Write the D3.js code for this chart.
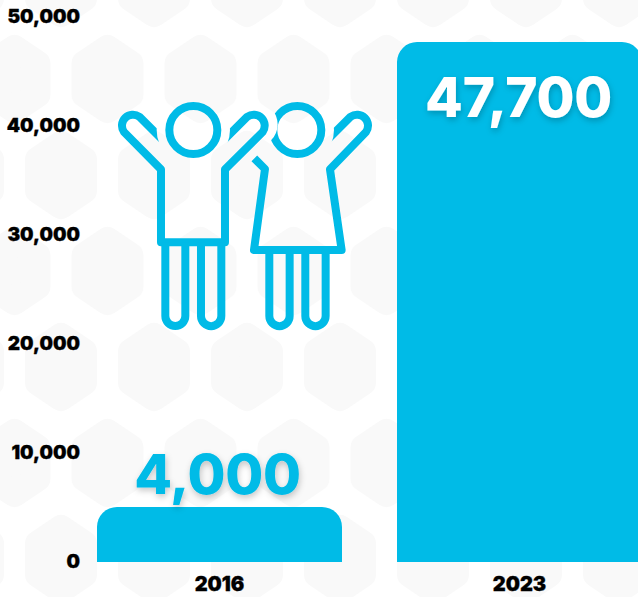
<!DOCTYPE html>
<html><head><meta charset="utf-8">
<script src="https://cdn.jsdelivr.net/npm/d3@7/dist/d3.min.js"></script>
<style>
html,body{margin:0;padding:0;background:#fff;overflow:hidden}
svg{display:block}
.axis text{font-family:Inter,sans-serif;font-weight:900;font-size:20px;fill:#000;stroke:#000;stroke-width:.3px}
.axis.yax text{font-size:19px}
.val{font-family:Inter,sans-serif;font-weight:800;font-size:55px;text-anchor:middle;letter-spacing:-.3px}
</style></head><body>
<script>
const categories = ["2016", "2023"];
const barValues = [5050, 47700];      // bar height as drawn
const valueLabels = ["4,000", "47,700"];
const yTicks = [0, 10000, 20000, 30000, 40000, 50000];
const W = 638, H = 597, BLUE = "#00bbe7", HEX = "#f9f9f9";

const svg = d3.select("body").append("svg").attr("width", W).attr("height", H);
const defs = svg.append("defs");

// drop shadow for the value labels
const f = defs.append("filter").attr("id","sh").attr("x","-20%").attr("y","-20%").attr("width","140%").attr("height","150%");
f.append("feDropShadow").attr("dx",1).attr("dy",3).attr("stdDeviation",3).attr("flood-color","#000").attr("flood-opacity",.22);

// hexagon background
const hexG = svg.append("g").attr("fill",HEX).attr("stroke",HEX).attr("stroke-width",26).attr("stroke-linejoin","round");
const hexPts = (cx,cy)=>{const rx=23,ry=31;return [[0,-ry],[rx,-ry/2],[rx,ry/2],[0,ry],[-rx,ry/2],[-rx,-ry/2]].map(p=>[cx+p[0],cy+p[1]].join(",")).join(" ");};
for(let r=0;r<7;r++){
  const cy=-17+96*r, x0=r%2?14.5:61;
  for(let c=-1;c<8;c++) hexG.append("polygon").attr("points",hexPts(x0+93*c,cy));
}

// scales and axes
const y = d3.scaleLinear().domain([0,50000]).range([562,17]);
const x = d3.scaleBand().domain(categories).range([97,642]).paddingInner(55/300).paddingOuter(0);

const yAxis = svg.append("g").attr("class","axis yax").attr("transform","translate(80,-1)")
  .call(d3.axisLeft(y).tickValues(yTicks).tickFormat(d3.format(",")).tickSize(0).tickPadding(0));
yAxis.select(".domain").remove();
const xAxis = svg.append("g").attr("class","axis").attr("transform","translate(0,562)")
  .call(d3.axisBottom(x).tickSize(0).tickPadding(15));
xAxis.select(".domain").remove();

// bars
const R = 20;
svg.append("g").selectAll("path").data(categories).join("path")
  .attr("fill",BLUE)
  .attr("d",(c,i)=>{
    const p=d3.path(), x0=x(c), x1=x0+x.bandwidth(), y0=y(0), yt=y(barValues[i]);
    p.moveTo(x0,y0); p.lineTo(x0,yt+R); p.arcTo(x0,yt,x0+R,yt,R);
    p.lineTo(x1-R,yt); p.arcTo(x1,yt,x1,yt+R,R); p.lineTo(x1,y0); p.closePath();
    return p.toString();
  });

// value labels
svg.append("g").selectAll("text").data(categories).join("text")
  .attr("class","val").attr("filter","url(#sh)")
  .attr("x",(c,i)=>i?518.5:217.5)
  .attr("y",(c,i)=>i?117:494)
  .attr("fill",(c,i)=>i?"#fff":BLUE)
  .text((c,i)=>valueLabels[i]);

// children icon (decoration)
const m1=defs.append("mask").attr("id","mBoy").attr("maskUnits","userSpaceOnUse").attr("x",0).attr("y",0).attr("width",900).attr("height",800);
m1.append("rect").attr("width",900).attr("height",800).attr("fill","#fff");
m1.append("circle").attr("cx",280).attr("cy",120).attr("r",110).attr("fill","#000");
const m2=defs.append("mask").attr("id","mGirlHead").attr("maskUnits","userSpaceOnUse").attr("x",0).attr("y",0).attr("width",900).attr("height",800);
m2.append("rect").attr("width",900).attr("height",800).attr("fill","#fff");
m2.append("circle").attr("cx",465).attr("cy",103).attr("r",68).attr("fill","#000");
const m3=defs.append("mask").attr("id","mGirl").attr("maskUnits","userSpaceOnUse").attr("x",0).attr("y",0).attr("width",900).attr("height",800);
m3.append("rect").attr("width",900).attr("height",800).attr("fill","#fff");
m3.append("circle").attr("cx",592).attr("cy",120).attr("r",110).attr("fill","#000");

const ic = svg.append("g").attr("transform","translate(100,90) scale(.3333)")
  .attr("fill","none").attr("stroke",BLUE).attr("stroke-width",24).attr("stroke-linejoin","round");
ic.append("path").attr("mask","url(#mBoy)")
  .attr("d","M190,152 L118,80 A33,33 0 0 0 72,126 L183,238 V457 H375 V238 L488,126 A33,33 0 0 0 442,80 L370,152");
ic.append("circle").attr("cx",280).attr("cy",120).attr("r",72);
ic.append("path").attr("d","M196,457 V678 a30,30 0 0 0 60,0 V457 M303,457 V678 a30,30 0 0 0 61,0 V457");
ic.append("path").attr("mask","url(#mGirl)")
  .attr("d","M463,205 L495,237 L462,480 H725 L690,238 L798,126 A33,33 0 0 0 752,80 L680,152");
ic.append("circle").attr("mask","url(#mGirlHead)").attr("cx",592).attr("cy",120).attr("r",72);
ic.append("path").attr("d","M508,480 V678 a30,30 0 0 0 61,0 V480 M616,480 V678 a30,30 0 0 0 61,0 V480");
</script>
</body></html>
